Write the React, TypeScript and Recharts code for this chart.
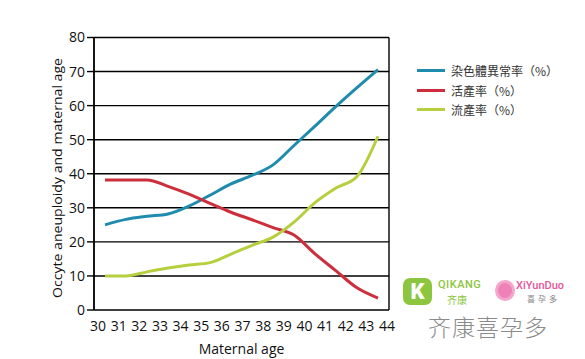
import { CartesianGrid, Line, LineChart, XAxis, YAxis } from "recharts";

const ages = [30, 31, 32, 33, 34, 35, 36, 37, 38, 39, 40, 41, 42, 43];
const aneuploidyRate = [25, 26.6, 27.5, 28.2, 30.5, 33.7, 37, 39.5, 42.6, 48.3, 54, 59.8, 65.3, 70.6];
const liveBirthRate = [38.2, 38.2, 38.2, 36.3, 34, 31.3, 28.7, 26.5, 24.2, 22, 16.5, 11.5, 6.5, 3.5];
const miscarriageRate = [10, 10, 11.2, 12.3, 13.2, 13.9, 16.4, 19, 21.4, 25.8, 31.5, 35.8, 39.2, 51];
const xTickLabels = [30, 31, 32, 33, 34, 35, 36, 37, 38, 39, 40, 41, 42, 43, 44];
const yTicks = [0, 10, 20, 30, 40, 50, 60, 70, 80];

const series = [
  { key: "aneuploidy", name: "染色體異常率（%）", color: "#1f8bad" },
  { key: "liveBirth", name: "活產率（%）", color: "#cc2f3b" },
  { key: "miscarriage", name: "流產率（%）", color: "#b5cf3e" }
];

const data = ages.map((age, i) => ({
  age,
  aneuploidy: aneuploidyRate[i],
  liveBirth: liveBirthRate[i],
  miscarriage: miscarriageRate[i]
}));

const font = "'Open Sans', 'Noto Sans', sans-serif";

function LegendBox() {
  return (
    <div style={{ position: "absolute", left: 417, top: 61, fontFamily: "'Noto Sans CJK TC', sans-serif", fontSize: 12, color: "#333" }}>
      {series.map((s) => (
        <div key={s.key} style={{ display: "flex", alignItems: "center", height: 19.5 }}>
          <span style={{ width: 28, height: 3, background: s.color, marginRight: 6 }} />
          <span>{s.name}</span>
        </div>
      ))}
    </div>
  );
}

export default function App() {
  return (
    <div style={{ position: "absolute", left: 0, top: 0, width: 585, height: 359, background: "#fff", overflow: "hidden" }}>
      <LineChart width={585} height={359} data={data} margin={{ top: 37.5, right: 196, bottom: 19, left: 0 }}>
        <CartesianGrid
          stroke="#000"
          strokeWidth={1.4}
          verticalCoordinatesGenerator={({ offset }: any) => [offset.left, offset.left + offset.width]}
        />
        <XAxis dataKey="age" type="number" domain={[30, 43]} hide height={0} padding={{ left: 11, right: 11 }} />
        <XAxis
          xAxisId="lab"
          dataKey="age"
          type="number"
          domain={[30, 44]}
          ticks={xTickLabels}
          padding={{ left: 4, right: 2 }}
          axisLine={false}
          tickLine={false}
          tickSize={6}
          tickMargin={5}
          height={30}
          interval={0}
          tick={{ fill: "#111", fontSize: 14, fontFamily: font }}
          label={{
            value: "Maternal age",
            position: "insideBottom",
            offset: -14,
            fill: "#111",
            fontSize: 14,
            fontFamily: font
          }}
        />
        <YAxis
          width={94}
          domain={[0, 80]}
          ticks={yTicks}
          stroke="#000"
          strokeWidth={1.4}
          tickSize={7}
          tick={{ fill: "#111", fontSize: 14, fontFamily: font }}
          label={{
            content: () => (
              <text
                x={57}
                y={178}
                transform="rotate(-90 57 178)"
                textAnchor="middle"
                dominantBaseline="central"
                fill="#111"
                fontSize={13.5}
                fontFamily={font}
                textLength={240}
                lengthAdjust="spacingAndGlyphs"
              >
                Occyte aneuploidy and maternal age
              </text>
            )
          }}
        />
        <Line
          xAxisId="lab"
          dataKey="aneuploidy"
          stroke="transparent"
          strokeWidth={0}
          dot={false}
          activeDot={false}
          isAnimationActive={false}
        />
        {series.map((s) => (
          <Line
            key={s.key}
            dataKey={s.key}
            name={s.name}
            type="monotone"
            stroke={s.color}
            strokeWidth={3}
            dot={false}
            isAnimationActive={false}
          />
        ))}
      </LineChart>
      <LegendBox />
      <div style={{ position: "absolute", left: 403, top: 278, width: 29, height: 27, background: "#8cc63f", borderRadius: 7, color: "#fff", fontFamily: "Roboto, sans-serif", fontWeight: 900, fontSize: 22, lineHeight: "27px", textAlign: "center" }}>K</div>
      <div style={{ position: "absolute", left: 438, top: 278, color: "#8cc63f", fontFamily: "Roboto, sans-serif", fontSize: 11, fontWeight: 500, letterSpacing: 0.5 }}>QIKANG</div>
      <div style={{ position: "absolute", left: 447, top: 292, color: "#8cc63f", fontFamily: "'Noto Sans CJK SC', sans-serif", fontSize: 10 }}>齐康</div>
      <div style={{ position: "absolute", left: 495, top: 280, width: 20, height: 21, borderRadius: "50%", background: "#ee82b8", border: "3px solid #f4a6cc", boxSizing: "border-box" }} />
      <div style={{ position: "absolute", left: 516, top: 279, color: "#e8559a", fontFamily: "Roboto, sans-serif", fontSize: 11, fontWeight: 500 }}>XiYunDuo</div>
      <div style={{ position: "absolute", left: 527, top: 293, color: "#888", fontFamily: "'Noto Sans CJK SC', sans-serif", fontSize: 8, letterSpacing: 3 }}>喜孕多</div>
      <div style={{ position: "absolute", left: 428, top: 309, color: "#8a8a8a", fontFamily: "'Noto Sans CJK SC', sans-serif", fontSize: 23, fontWeight: 300, letterSpacing: 1 }}>齐康喜孕多</div>
    </div>
  );
}
